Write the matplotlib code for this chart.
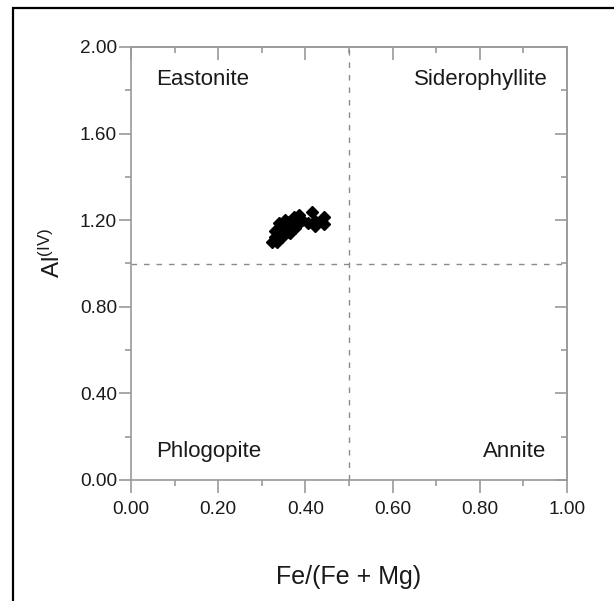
"""
Biotite classification diagram: Al(IV) vs Fe/(Fe + Mg)
Quadrants: Eastonite / Siderophyllite / Phlogopite / Annite
"""

import matplotlib
matplotlib.use("Agg")
import matplotlib.pyplot as plt
from matplotlib.patches import Rectangle
from matplotlib.ticker import MultipleLocator, FormatStrFormatter

plt.rcParams["font.family"] = ["Liberation Sans", "DejaVu Sans"]
plt.rcParams["mathtext.fontset"] = "custom"
plt.rcParams["mathtext.rm"] = "Liberation Sans"
plt.rcParams["mathtext.it"] = "Liberation Sans"

# ---------------------------------------------------------------------------
# Data
# ---------------------------------------------------------------------------
fe_ratio = [0.323, 0.331, 0.335, 0.342, 0.339, 0.346, 0.350, 0.354, 0.358,
            0.358, 0.365, 0.369, 0.373, 0.377, 0.385, 0.385, 0.392, 0.331,
            0.345, 0.362, 0.370, 0.380, 0.352, 0.340,
            0.407, 0.414, 0.423, 0.423, 0.442, 0.442]
al_iv    = [1.101, 1.124, 1.101, 1.147, 1.186, 1.124, 1.171, 1.201, 1.147,
            1.190, 1.140, 1.171, 1.217, 1.163, 1.224, 1.186, 1.201, 1.150,
            1.160, 1.175, 1.195, 1.205, 1.135, 1.165,
            1.189, 1.240, 1.198, 1.173, 1.214, 1.183]

fields   = ["Eastonite", "Siderophyllite", "Phlogopite", "Annite"]
field_x  = [0.057, 0.955, 0.057, 0.952]
field_y  = [1.825, 1.825, 0.105, 0.105]
field_ha = ["left", "right", "left", "right"]

X_SPLIT = 0.5
Y_SPLIT = 1.0

SPINE = "#9a9a9a"
TEXT = "#1a1a1a"

# ---------------------------------------------------------------------------
# Figure
# ---------------------------------------------------------------------------
fig = plt.figure(figsize=(6.14, 6.01), dpi=100)
ax = fig.add_axes([131 / 614, 121 / 601, 436 / 614, 433 / 601])

ax.set_xlim(0, 1)
ax.set_ylim(0, 2)

# quadrant dividers
ax.plot([X_SPLIT, X_SPLIT], [0, 2], ls=(0, (4, 5)), color="#8a8a8a", lw=1.0)
ax.plot([0, 1], [Y_SPLIT, Y_SPLIT], ls=(0, (4, 5)), color="#8a8a8a", lw=1.0)

ax.plot(fe_ratio, al_iv, ls="none", marker="D", ms=6.2, color="black",
        mec="black", zorder=5)

for name, x, y, ha in zip(fields, field_x, field_y, field_ha):
    ax.text(x, y, name, ha=ha, va="baseline", fontsize=16, color=TEXT)

# spines / ticks
for sp in ax.spines.values():
    sp.set_color(SPINE)
    sp.set_linewidth(1.2)

ax.xaxis.set_major_locator(MultipleLocator(0.2))
ax.xaxis.set_minor_locator(MultipleLocator(0.1))
ax.yaxis.set_major_locator(MultipleLocator(0.4))
ax.yaxis.set_minor_locator(MultipleLocator(0.2))
ax.xaxis.set_major_formatter(FormatStrFormatter("%.2f"))
ax.yaxis.set_major_formatter(FormatStrFormatter("%.2f"))

ax.tick_params(which="both", direction="out", color=SPINE, width=1.2,
               labelsize=13.7, labelcolor=TEXT)
ax.tick_params(which="major", length=9)
ax.tick_params(which="minor", length=4.5)
ax.tick_params(axis="x", pad=6)
ax.tick_params(axis="y", pad=1)

# mirrored inward ticks on top and right (no labels)
top = ax.secondary_xaxis("top")
top.xaxis.set_major_locator(MultipleLocator(0.2))
top.xaxis.set_minor_locator(MultipleLocator(0.1))
top.xaxis.set_tick_params(labeltop=False)
right = ax.secondary_yaxis("right")
right.yaxis.set_major_locator(MultipleLocator(0.4))
right.yaxis.set_minor_locator(MultipleLocator(0.2))
right.yaxis.set_tick_params(labelright=False)
for sec in (top, right):
    sec.tick_params(which="both", direction="in", color=SPINE, width=1.2)
    sec.tick_params(which="major", length=9)
    sec.tick_params(which="minor", length=4.5)
    for sp in sec.spines.values():
        sp.set_color(SPINE)
        sp.set_linewidth(1.2)

ax.set_xlabel("Fe/(Fe + Mg)", fontsize=18, color=TEXT, labelpad=34)
ax.set_ylabel(r"Al$^{\mathrm{(IV)}}$", fontsize=17.5, color=TEXT)
ax.yaxis.set_label_coords(-0.152, 0.524)

# outer frame (extends past the right and bottom edges)
frame = Rectangle((12.5 / 614, -0.1), 1.2, 1.1 - 7.5 / 601,
                  transform=fig.transFigure, fill=False, edgecolor="black",
                  linewidth=1.6, clip_on=False)
fig.patches.append(frame)

fig.savefig("out.png", dpi=100)
plt.close(fig)
